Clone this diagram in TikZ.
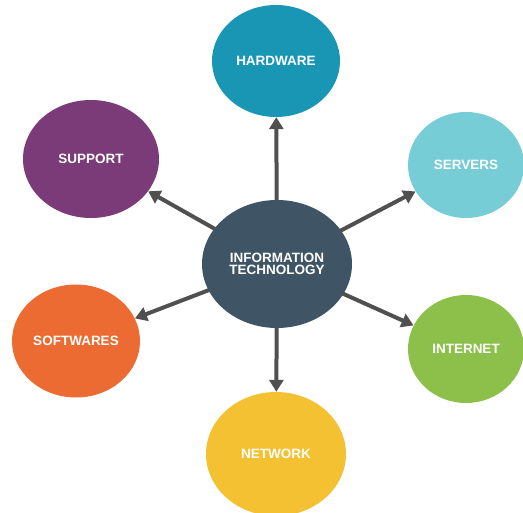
\documentclass[tikz,border=0pt]{standalone}
\usepackage{fontspec}
\setmainfont{Liberation Sans}
\usetikzlibrary{arrows.meta,shapes.geometric}
\definecolor{itcol}{HTML}{3F5565}
\definecolor{hwcol}{HTML}{1A96B5}
\definecolor{svcol}{HTML}{76CDD6}
\definecolor{spcol}{HTML}{7B3A78}
\definecolor{swcol}{HTML}{EC6B32}
\definecolor{incol}{HTML}{8CC04A}
\definecolor{nwcol}{HTML}{F4C132}
\definecolor{arrcol}{HTML}{505050}
\tikzset{
  topic/.style={ellipse, inner sep=0pt, text=white, font=\fontsize{13.5}{14}\selectfont\bfseries, align=center},
  spoke/.style={draw=arrcol, line width=4pt, -{Triangle[width=14pt,length=12pt]}}
}

\begin{document}
\begin{tikzpicture}[x=1pt, y=-1pt]
			%%%%% START %%%%%
			
			\useasboundingbox (0, 0) rectangle (523, 513);
			
			\node[topic, fill=hwcol, minimum width=128pt, minimum height=112pt] (hw) at (276, 61) {HARDWARE};
			\node[topic, fill=svcol, minimum width=116pt, minimum height=106pt] (sv) at (466, 165) {SERVERS};
			\node[topic, fill=spcol, minimum width=136pt, minimum height=118pt] (sp) at (91, 159) {SUPPORT};
			\node[topic, fill=swcol, minimum width=128pt, minimum height=113pt] (sw) at (76, 341) {SOFTWARES};
			\node[topic, fill=incol, minimum width=116pt, minimum height=108pt] (in) at (466, 349) {INTERNET};
			\node[topic, fill=nwcol, minimum width=140pt, minimum height=124pt] (nw) at (276, 454) {NETWORK};
			
			\coordinate (c) at (277, 264);
			\draw[spoke] (c) -- (hw);
			\draw[spoke] (c) -- (sv);
			\draw[spoke] (c) -- (sp);
			\draw[spoke] (c) -- (sw);
			\draw[spoke] (c) -- (in);
			\draw[spoke] (c) -- (nw);
			
			\node[topic, fill=itcol, minimum width=150pt, minimum height=128pt] (it) at (c) {INFORMATION\\[-2pt]TECHNOLOGY};
			
			%%%%% END %%%%%
		\end{tikzpicture}
\end{document}
